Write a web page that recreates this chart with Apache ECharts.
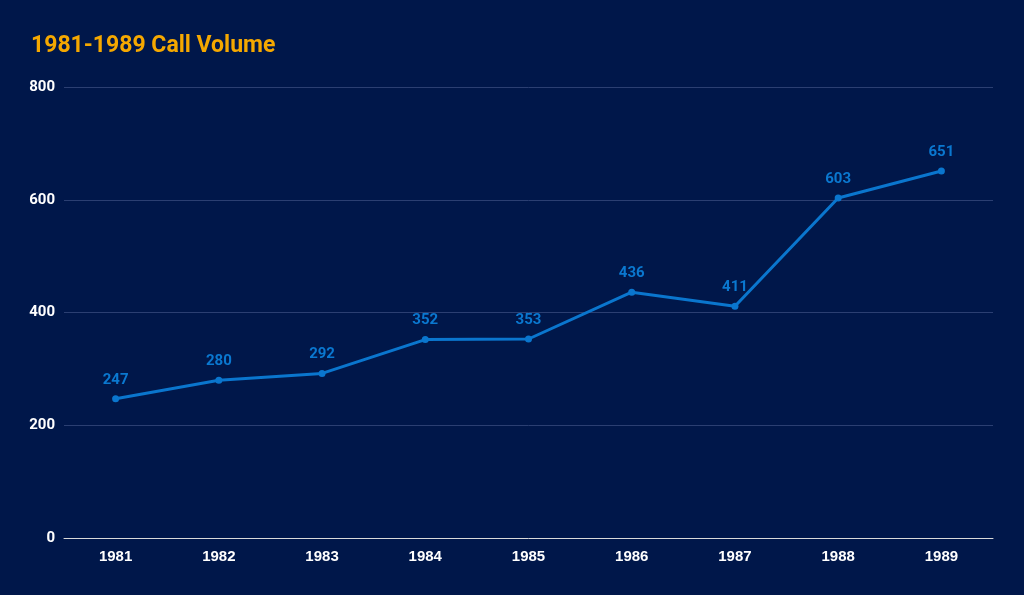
<!DOCTYPE html>
<html><head><meta charset="utf-8">
<script src="https://cdn.jsdelivr.net/npm/echarts@6/dist/echarts.min.js"></script>
<style>html,body{margin:0;padding:0;background:#00174A;}#c{width:1024px;height:595px;}</style>
</head><body><div id="c"></div>
<script>
const categories = ['1981','1982','1983','1984','1985','1986','1987','1988','1989'];
const callVolume = [247, 280, 292, 352, 353, 436, 411, 603, 651];
const yTicks = [0, 200, 400, 600, 800];
const titleText = '1981-1989 Call Volume';

const chart = echarts.init(document.getElementById('c'));
chart.setOption({
  backgroundColor: '#00174A',
  animation: false,
  title: {
    text: titleText, left: 26, top: 30,
    textStyle: { color: '#F5A800', fontFamily: 'Roboto', fontWeight: 'bold', fontSize: 23 }
  },
  grid: { left: 64, right: 31, top: 87, bottom: 57 },
  xAxis: {
    type: 'category', data: categories, boundaryGap: true,
    axisLine: { lineStyle: { color: '#D9D9D9', width: 1 } },
    axisTick: { show: false },
    axisLabel: { color: '#FFFFFF', fontFamily: 'Liberation Sans', fontWeight: 'bold', fontSize: 15, margin: 11 }
  },
  yAxis: {
    type: 'value', min: yTicks[0], max: yTicks[yTicks.length-1], interval: 200,
    axisLine: { show: false }, axisTick: { show: false },
    splitLine: { lineStyle: { color: '#2B3F72', width: 1 } },
    axisLabel: { color: '#FFFFFF', fontFamily: 'Roboto', fontWeight: 'bold', fontSize: 15, margin: 9 }
  },
  series: [{
    type: 'line', data: callVolume,
    symbol: 'circle', symbolSize: 7,
    lineStyle: { color: '#0A76CE', width: 3 },
    itemStyle: { color: '#0A76CE' },
    label: { show: true, position: 'top', distance: 8, color: '#0A78D0', fontFamily: 'Roboto', fontWeight: 'bold', fontSize: 15 }
  }]
});
</script></body></html>
